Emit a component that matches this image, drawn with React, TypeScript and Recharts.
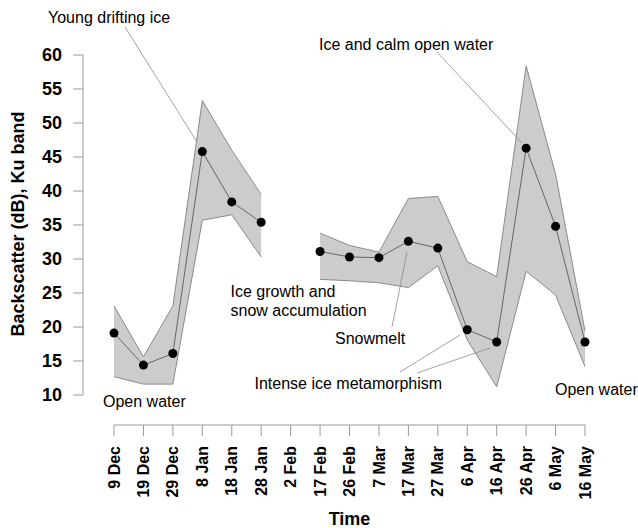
import { ComposedChart, Area, Line, XAxis, YAxis } from 'recharts'

// sampling dates (2 Feb has no data)
const dates = [
  '9 Dec', '19 Dec', '29 Dec', '8 Jan', '18 Jan', '28 Jan', '2 Feb', '17 Feb', '26 Feb',
  '7 Mar', '17 Mar', '27 Mar', '6 Apr', '16 Apr', '26 Apr', '6 May', '16 May',
]
const meanDb = [19.1, 14.4, 16.1, 45.8, 38.4, 35.4, null, 31.1, 30.3, 30.2, 32.6, 31.6, 19.6, 17.8, 46.3, 34.8, 17.8]
const upperDb = [23.1, 15.6, 23.1, 53.3, 46.0, 39.5, null, 33.8, 32.0, 31.0, 38.9, 39.2, 29.6, 27.4, 58.4, 42.5, 19.4]
const lowerDb = [12.7, 11.6, 11.6, 35.7, 36.5, 30.3, null, 27.0, 26.8, 26.5, 25.8, 29.0, 18.1, 11.2, 28.2, 24.7, 14.2]
const yTicks = [10, 15, 20, 25, 30, 35, 40, 45, 50, 55, 60]

const data = dates.map((d, i) => ({
  date: d,
  mean: meanDb[i],
  band: lowerDb[i] == null || upperDb[i] == null ? null : [lowerDb[i], upperDb[i]],
}))

const font = '"Liberation Sans", Arial, sans-serif'

function DateTick(props: any) {
  const { x, y, payload } = props
  return (
    <text
      x={x}
      y={y}
      dy="0.35em"
      transform={`rotate(-90, ${x}, ${y})`}
      textAnchor="end"
      fontSize={16}
      fontWeight="bold"
      fontFamily={font}
      fill="#000"
    >
      {payload.value}
    </text>
  )
}

function YLabel(props: any) {
  const vb = props.viewBox
  const cx = vb.x + 24
  const cy = vb.y + vb.height / 2 - 1
  return (
    <text
      x={cx}
      y={cy}
      transform={`rotate(-90, ${cx}, ${cy})`}
      textAnchor="middle"
      fontSize={18}
      fontWeight="bold"
      fontFamily={font}
      fill="#000"
    >
      Backscatter (dB), Ku band
    </text>
  )
}

// annotation texts and leader lines (page pixels)
const notes = [
  { lines: ['Young drifting ice'], x: 48, y: 22.5 },
  { lines: ['Ice and calm open water'], x: 319, y: 50 },
  { lines: ['Ice growth and', 'snow accumulation'], x: 230.5, y: 296.5 },
  { lines: ['Snowmelt'], x: 335, y: 343.5 },
  { lines: ['Intense ice metamorphism'], x: 254.5, y: 388.5 },
  { lines: ['Open water'], x: 103, y: 406.5 },
  { lines: ['Open water'], x: 555, y: 394.5 },
]
const leaders = [
  [125, 27, 197, 142],
  [437, 52, 522, 143],
  [392, 327, 407, 252],
  [400, 372, 460, 335],
  [417, 373, 490, 348],
]

export default function App() {
  return (
    <div style={{ position: 'absolute', left: 0, top: 0, width: 638, height: 528, background: '#fff' }}>
      <ComposedChart
        width={638}
        height={528}
        data={data}
        margin={{ top: 55, right: 53, left: 0, bottom: 0 }}
      >
        <XAxis xAxisId="a" dataKey="date" height={30} tick={false} axisLine={false} tickLine={false} />
        <XAxis
          xAxisId="z"
          dataKey="date"
          height={103}
          interval={0}
          tickSize={11}
          tickMargin={10}
          stroke="#999"
          tick={<DateTick />}
          label={{
            value: 'Time',
            position: 'insideBottom',
            offset: 3,
            style: { fontSize: 18, fontWeight: 'bold', fontFamily: font, fill: '#000' },
          }}
        />
        <YAxis yAxisId="a" width={31} tick={false} axisLine={false} tickLine={false} />
        <YAxis
          yAxisId="z"
          width={83}
          domain={[10, 60]}
          ticks={yTicks}
          interval={0}
          tickSize={10}
          tickMargin={11}
          stroke="#999"
          tick={{ fontSize: 18, fontWeight: 'bold', fontFamily: font, fill: '#000' }}
          label={<YLabel />}
        />
        <Area
          xAxisId="z"
          yAxisId="z"
          dataKey="band"
          type="linear"
          fill="#cccccc"
          fillOpacity={1}
          stroke="#8a8a8a"
          strokeWidth={1}
          isAnimationActive={false}
          connectNulls={false}
        />
        <Line
          xAxisId="z"
          yAxisId="z"
          dataKey="mean"
          type="linear"
          stroke="#666"
          strokeWidth={1}
          dot={{ r: 4.5, fill: '#000', stroke: 'none' }}
          activeDot={false}
          isAnimationActive={false}
          connectNulls={false}
        />
      </ComposedChart>
      <svg
        width={638}
        height={528}
        style={{ position: 'absolute', left: 0, top: 0, pointerEvents: 'none' }}
      >
        {leaders.map((l, i) => (
          <line key={i} x1={l[0]} y1={l[1]} x2={l[2]} y2={l[3]} stroke="#8c8c8c" strokeWidth={0.8} />
        ))}
        {notes.map((n, i) => (
          <text key={i} x={n.x} y={n.y} fontSize={16} fontFamily={font} fill="#000">
            {n.lines.map((t, j) => (
              <tspan key={j} x={n.x} dy={j === 0 ? 0 : 19}>
                {t}
              </tspan>
            ))}
          </text>
        ))}
      </svg>
    </div>
  )
}
